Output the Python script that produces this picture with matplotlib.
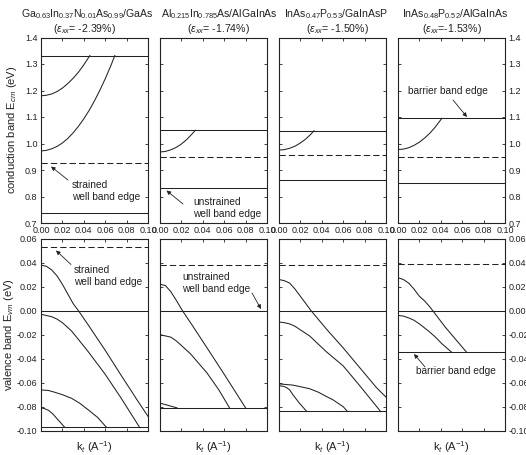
import matplotlib
matplotlib.use("Agg")
import matplotlib.pyplot as plt
import numpy as np

plt.rcParams['font.family'] = ['Liberation Sans', 'DejaVu Sans']
plt.rcParams['mathtext.fontset'] = 'custom'
plt.rcParams['mathtext.rm'] = 'Liberation Sans'
plt.rcParams['mathtext.it'] = 'Liberation Sans:italic'
plt.rcParams['mathtext.bf'] = 'Liberation Sans:bold'

# ---------------- data ----------------
titles = [r'Ga$_\mathregular{0.63}$In$_\mathregular{0.37}$N$_\mathregular{0.01}$As$_\mathregular{0.99}$/GaAs',
          r'Al$_\mathregular{0.215}$In$_\mathregular{0.785}$As/AlGaInAs',
          r'InAs$_\mathregular{0.47}$P$_\mathregular{0.53}$/GaInAsP',
          r'InAs$_\mathregular{0.48}$P$_\mathregular{0.52}$/AlGaInAs']
strains = [r'($\epsilon_{xx}$= -2.39%)', r'($\epsilon_{xx}$= -1.74%)',
           r'($\epsilon_{xx}$= -1.50%)', r'($\epsilon_{xx}$=-1.53%)']

# conduction band levels
cb_barrier = [1.332, 1.050, 1.048, 1.095]
cb_strained = [0.925, 0.950, 0.957, 0.948]
cb_unstrained = [0.738, 0.833, 0.862, 0.852]
cb_curves = [
    [([0, 0.005, 0.01, 0.015, 0.02, 0.025, 0.03, 0.035, 0.04, 0.0457],
      [1.180, 1.182, 1.187, 1.196, 1.209, 1.226, 1.246, 1.269, 1.297, 1.332]),
     ([0, 0.005, 0.01, 0.015, 0.02, 0.025, 0.03, 0.035, 0.04, 0.045, 0.05, 0.055, 0.06, 0.065, 0.069],
      [0.972, 0.974, 0.980, 0.989, 1.002, 1.019, 1.040, 1.065, 1.093, 1.125, 1.161, 1.201, 1.244, 1.291, 1.332])],
    [([0, 0.005, 0.01, 0.015, 0.02, 0.025, 0.03, 0.033],
      [0.968, 0.970, 0.976, 0.985, 0.998, 1.015, 1.036, 1.050])],
    [([0, 0.005, 0.01, 0.015, 0.02, 0.025, 0.03, 0.0327],
      [0.975, 0.977, 0.982, 0.990, 1.002, 1.017, 1.036, 1.048])],
    [([0, 0.005, 0.01, 0.015, 0.02, 0.025, 0.03, 0.035, 0.041],
      [0.977, 0.979, 0.984, 0.993, 1.005, 1.021, 1.040, 1.063, 1.095])],
]

# valence band levels
vb_strained = [0.053, 0.038, 0.038, 0.039]
vb_unstrained = [0.0, 0.0, 0.0, 0.0]
vb_barrier = [-0.097, -0.081, -0.084, -0.0345]
vb_curves = [
    [([0, 0.005, 0.01, 0.015, 0.02, 0.025, 0.03, 0.035, 0.045, 0.060, 0.075, 0.091, 0.100],
      [0.038, 0.037, 0.034, 0.029, 0.022, 0.014, 0.006, 0.0, -0.013, -0.033, -0.054, -0.076, -0.088]),
     ([0, 0.005, 0.01, 0.015, 0.02, 0.025, 0.0286, 0.035, 0.044, 0.060, 0.075, 0.092],
      [-0.003, -0.004, -0.005, -0.007, -0.010, -0.014, -0.017, -0.024, -0.034, -0.053, -0.073, -0.097]),
     ([0, 0.007, 0.013, 0.02, 0.0286, 0.036, 0.044, 0.053, 0.061],
      [-0.066, -0.0665, -0.068, -0.070, -0.073, -0.077, -0.0825, -0.089, -0.097]),
     ([0, 0.003, 0.007, 0.011, 0.016, 0.022],
      [-0.081, -0.0815, -0.083, -0.086, -0.091, -0.097])],
    [([0, 0.005, 0.010, 0.015, 0.021, 0.030, 0.044, 0.060, 0.080],
      [0.022, 0.021, 0.016, 0.009, 0.0, -0.012, -0.031, -0.053, -0.081]),
     ([0, 0.005, 0.01, 0.015, 0.02, 0.0286, 0.044, 0.055, 0.065],
      [-0.020, -0.021, -0.022, -0.025, -0.029, -0.036, -0.052, -0.066, -0.081]),
     ([0, 0.008, 0.016], [-0.077, -0.079, -0.081])],
    [([0, 0.005, 0.01, 0.015, 0.020, 0.025, 0.030, 0.045, 0.060, 0.075, 0.091, 0.100],
      [0.026, 0.025, 0.023, 0.018, 0.012, 0.006, 0.0, -0.016, -0.031, -0.047, -0.064, -0.072]),
     ([0, 0.005, 0.01, 0.015, 0.02, 0.0286, 0.044, 0.060, 0.075, 0.095],
      [-0.0094, -0.010, -0.011, -0.013, -0.016, -0.021, -0.034, -0.046, -0.062, -0.084]),
     ([0, 0.013, 0.0286, 0.037, 0.044, 0.050, 0.055, 0.060, 0.064],
      [-0.061, -0.062, -0.065, -0.068, -0.0714, -0.074, -0.077, -0.080, -0.084]),
     ([0, 0.004, 0.007, 0.010, 0.013, 0.019, 0.026],
      [-0.0625, -0.063, -0.064, -0.066, -0.070, -0.077, -0.084])],
    [([0, 0.005, 0.01, 0.015, 0.020, 0.025, 0.029, 0.0325, 0.044, 0.054, 0.064],
      [0.0275, 0.026, 0.023, 0.018, 0.012, 0.008, 0.004, 0.0, -0.0135, -0.024, -0.0345]),
     ([0, 0.005, 0.01, 0.015, 0.02, 0.0286, 0.035, 0.041, 0.050],
      [-0.0039, -0.0045, -0.006, -0.008, -0.011, -0.017, -0.022, -0.0275, -0.0345])],
]

x_ticks = [0.00, 0.02, 0.04, 0.06, 0.08, 0.10]
cb_ticks = [0.7, 0.8, 0.9, 1.0, 1.1, 1.2, 1.3, 1.4]
vb_ticks = [-0.10, -0.08, -0.06, -0.04, -0.02, 0.00, 0.02, 0.04, 0.06]

# ---------------- figure ----------------
W, H = 526, 455
fig = plt.figure(figsize=(W / 100, H / 100), dpi=100)
lefts = [41, 160, 279, 398]
pw = 107
top_y0, top_y1 = 37.5, 223.0
bot_y0, bot_y1 = 238.7, 430.7
title_cx = [87, 219, 336, 455]
strain_cx = [84, 218, 337, 452]

lw = 0.75
col = '#222222'
ts = 6.5
fs_ann = 7.3

def style(ax, yt, fmt, side):
    ax.set_xlim(0, 0.1)
    ax.set_xticks(x_ticks)
    ax.set_yticks(yt)
    ax.tick_params(direction='in', length=2.5, width=0.6, top=True, right=True,
                   labelsize=ts, pad=2.5, colors=col)
    ax.yaxis.set_major_formatter(matplotlib.ticker.FormatStrFormatter(fmt))
    ax.xaxis.set_major_formatter(matplotlib.ticker.FormatStrFormatter('%.2f'))
    for s in ax.spines.values():
        s.set_linewidth(0.8)
        s.set_color(col)
    if side == 'left':
        ax.tick_params(labelleft=True, labelright=False)
    elif side == 'right':
        ax.tick_params(labelleft=False, labelright=True)
    else:
        ax.tick_params(labelleft=False, labelright=False)

def ftext(x, y, s, **kw):
    return fig.text(x / W, 1 - y / H, s, **kw)

axes_top, axes_bot = [], []
for i, l in enumerate(lefts):
    side = 'left' if i == 0 else ('right' if i == 3 else 'none')
    axt = fig.add_axes([l / W, 1 - top_y1 / H, pw / W, (top_y1 - top_y0) / H])
    axt.set_ylim(0.7, 1.4)
    style(axt, cb_ticks, '%.1f', side)
    axt.axhline(cb_barrier[i], color=col, lw=lw)
    axt.axhline(cb_strained[i], color=col, lw=lw, ls=(0, (6, 3)))
    axt.axhline(cb_unstrained[i], color=col, lw=lw)
    for k, e in cb_curves[i]:
        axt.plot(k, e, color=col, lw=lw)
    ftext(title_cx[i], 14, titles[i], fontsize=7.6, ha='center', va='center', color=col)
    ftext(strain_cx[i], 29, strains[i], fontsize=7.6, ha='center', va='center', color=col)
    axes_top.append(axt)

    axb = fig.add_axes([l / W, 1 - bot_y1 / H, pw / W, (bot_y1 - bot_y0) / H])
    axb.set_ylim(-0.10, 0.06)
    style(axb, vb_ticks, '%.2f', side)
    axb.tick_params(labelbottom=False)
    axb.axhline(vb_strained[i], color=col, lw=lw, ls=(0, (6, 3)))
    axb.axhline(vb_unstrained[i], color=col, lw=lw)
    axb.axhline(vb_barrier[i], color=col, lw=lw)
    for k, e in vb_curves[i]:
        axb.plot(k, e, color=col, lw=lw)
    ftext(l + pw / 2, 447, r'k$_t$ (A$^{-1}$)', fontsize=8, ha='center', va='center', color=col)
    axes_bot.append(axb)

axes_top[0].set_ylabel(r'conduction band E$_{cm}$ (eV)', fontsize=8, labelpad=4, color=col)
axes_bot[0].set_ylabel(r'valence band E$_{vm}$ (eV)', fontsize=8, labelpad=1, color=col)

ap = dict(arrowstyle='-|>', lw=0.6, color=col, mutation_scale=6, shrinkA=0, shrinkB=0)

def px(x, y):
    return (x / W, 1 - y / H)

def ann(text, xy_px, xytext_px, tx_px, ha='left'):
    ftext(tx_px[0], tx_px[1], text, fontsize=fs_ann, ha=ha, va='center',
          linespacing=1.15, color=col)
    fig.add_artist(matplotlib.patches.FancyArrowPatch(px(*xytext_px), px(*xy_px),
                   transform=fig.transFigure, **ap))

ann('strained\nwell band edge', (51, 166.5), (68, 180), (72, 191))
ann('unstrained\nwell band edge', (166.5, 190.5), (183, 204), (193, 208))
ann('barrier band edge', (467, 117), (453, 100), (408, 91))
ann('strained\nwell band edge', (56, 250.5), (71, 264.5), (74, 276))
ann('unstrained\nwell band edge', (261, 309), (252, 293), (182, 283))
ann('barrier band edge', (414, 354), (425, 367), (415.5, 371))

fig.savefig('out.png', dpi=100)
